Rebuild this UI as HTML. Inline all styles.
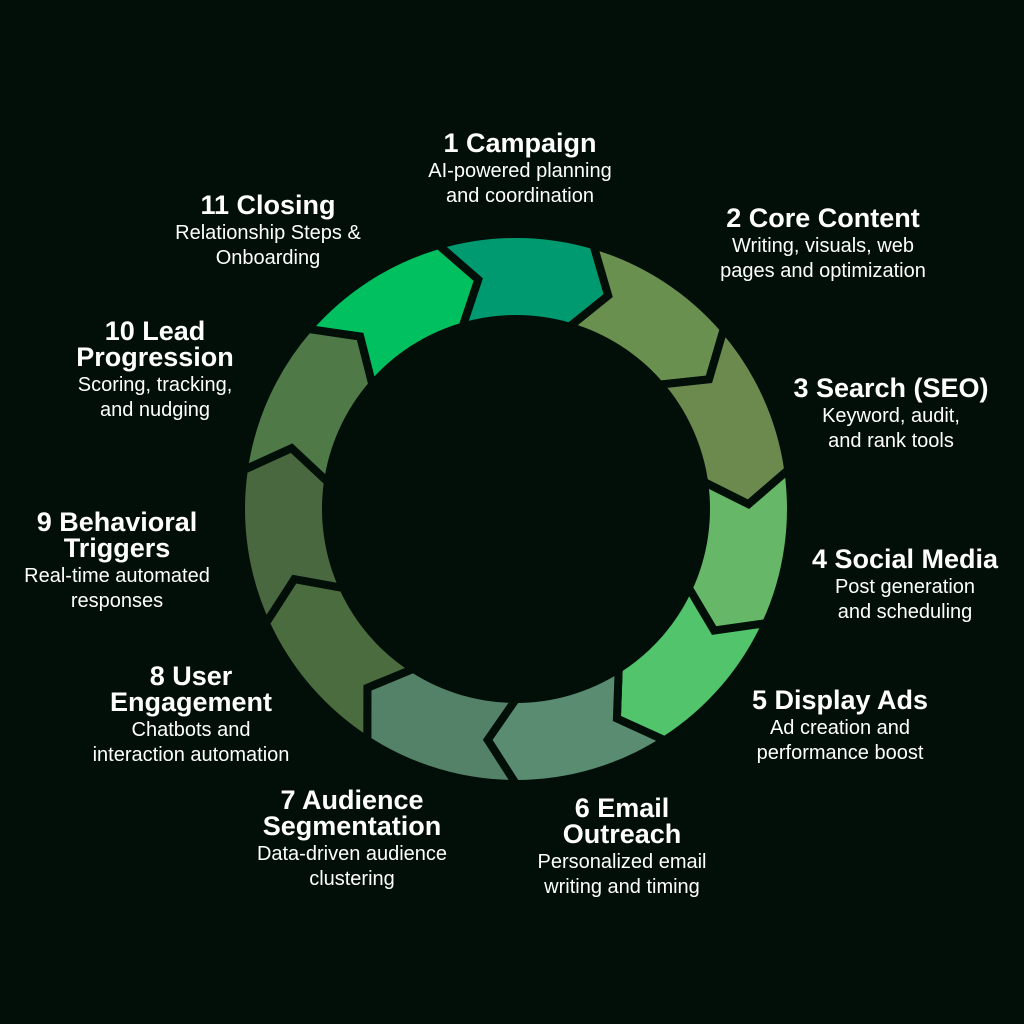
<!DOCTYPE html>
<html><head><meta charset="utf-8">
<style>
html,body{margin:0;padding:0;background:#020f08;}
#wrap{position:relative;width:1024px;height:1024px;overflow:hidden;background:#020f08;font-family:"Liberation Sans",sans-serif;color:#fff;}
.l{position:absolute;text-align:center;white-space:nowrap;transform:translateX(-50%);}
.t{font-weight:bold;font-size:27px;line-height:26px;}
.s{font-size:20px;line-height:25px;margin-top:3px;}
svg{position:absolute;left:0;top:0;}
</style></head><body><div id="wrap">
<svg id="sv" width="1024" height="1024" viewBox="0 0 1024 1024"></svg>
<div class="l" style="left:520px;top:130px"><div class="t">1 Campaign</div><div class="s">AI-powered planning<br>and coordination</div></div>
<div class="l" style="left:823px;top:205px"><div class="t">2 Core Content</div><div class="s">Writing, visuals, web<br>pages and optimization</div></div>
<div class="l" style="left:891px;top:375px"><div class="t">3 Search (SEO)</div><div class="s">Keyword, audit,<br>and rank tools</div></div>
<div class="l" style="left:905px;top:546px"><div class="t">4 Social Media</div><div class="s">Post generation<br>and scheduling</div></div>
<div class="l" style="left:840px;top:687px"><div class="t">5 Display Ads</div><div class="s">Ad creation and<br>performance boost</div></div>
<div class="l" style="left:622px;top:795px"><div class="t">6 Email<br>Outreach</div><div class="s">Personalized email<br>writing and timing</div></div>
<div class="l" style="left:352px;top:787px"><div class="t">7 Audience<br>Segmentation</div><div class="s">Data-driven audience<br>clustering</div></div>
<div class="l" style="left:191px;top:663px"><div class="t">8 User<br>Engagement</div><div class="s">Chatbots and<br>interaction automation</div></div>
<div class="l" style="left:117px;top:509px"><div class="t">9 Behavioral<br>Triggers</div><div class="s">Real-time automated<br>responses</div></div>
<div class="l" style="left:155px;top:318px"><div class="t">10 Lead<br>Progression</div><div class="s">Scoring, tracking,<br>and nudging</div></div>
<div class="l" style="left:268px;top:192px"><div class="t">11 Closing</div><div class="s">Relationship Steps &amp;<br>Onboarding</div></div>
</div>
<script>
(function(){
var cx=516,cy=509,R=275,r=190,rm=(R+r)/2,n=11,step=360/n,tip=7;
var cols=["#009a70","#6a9050","#6c8a4e","#66b868","#52c46c","#5a8c72","#548268","#4a6c3e","#4a6840","#4f7a48","#00c060"];
function p(a,rad){var t=a*Math.PI/180;return (cx+rad*Math.sin(t)).toFixed(1)+","+(cy-rad*Math.cos(t)).toFixed(1);}
var s="";
for(var i=0;i<n;i++){
 var c=i*step,a0=c-step/2,a1=c+step/2;
 var d="M"+p(a0,R)+" A"+R+","+R+" 0 0 1 "+p(a1,R)+" L"+p(a1+tip,rm)+" L"+p(a1,r)+" A"+r+","+r+" 0 0 0 "+p(a0,r)+" L"+p(a0+tip,rm)+" Z";
 s+='<path d="'+d+'" fill="'+cols[i]+'" stroke="#020f08" stroke-width="8" stroke-linejoin="miter"/>';
}
document.getElementById("sv").innerHTML=s;
})();
</script>
</body></html>
